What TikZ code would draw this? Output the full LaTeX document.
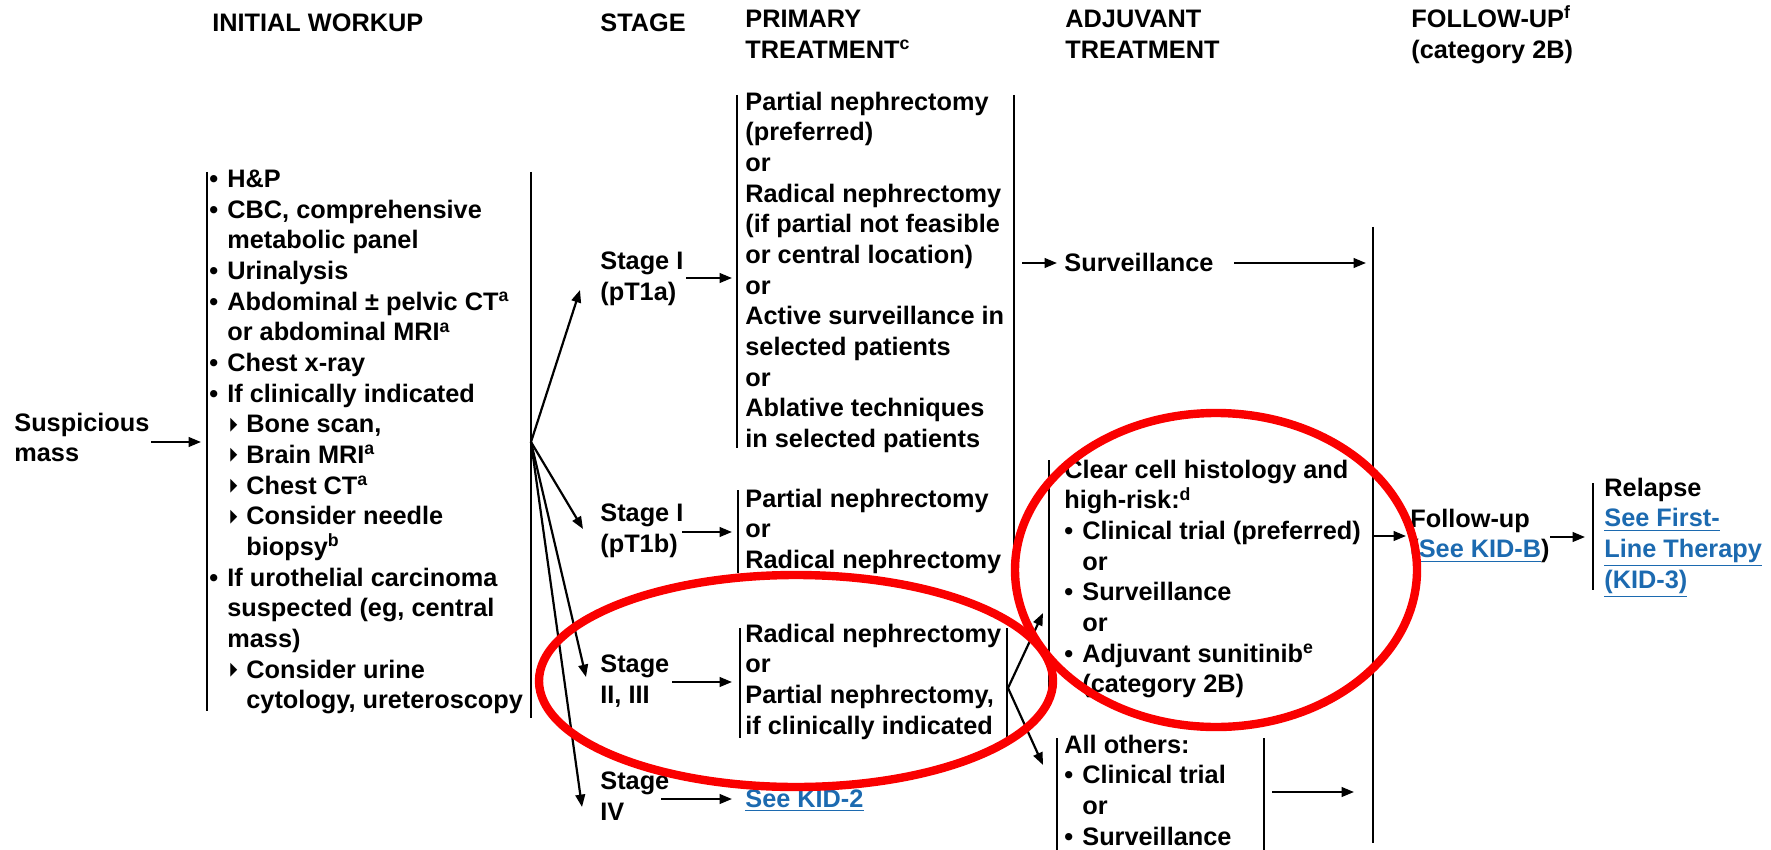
\documentclass[tikz,border=0pt]{standalone}
\usepackage{fontspec}
\setmainfont{Liberation Sans}
\newfontfamily\symfont{DejaVu Sans}
\usetikzlibrary{arrows.meta}

\definecolor{linkblue}{RGB}{28,106,176}
\definecolor{markred}{RGB}{250,0,0}

\newcommand{\diagfont}{\fontsize{12.65}{15.33}\selectfont\bfseries}
\newcommand{\bul}{\makebox[9pt][l]{•}}
\newcommand{\indt}{\hspace*{9pt}}
\newcommand{\tri}{\hspace*{10.5pt}\makebox[8pt][l]{\raisebox{0.3pt}{\scalebox{0.5}[1]{\symfont\fontsize{14}{14}\selectfont ▸}}}}
\newcommand{\subind}{\hspace*{18.5pt}}
\newcommand{\sups}[1]{\smash{\textsuperscript{#1}}}
\newcommand{\lnk}[1]{\textcolor{linkblue}{\underline{#1}}}

\tikzset{
  txt/.style={inner sep=0pt, anchor=north west, yshift=10.73pt, align=left,
    font=\diagfont, execute at begin node=\strut},
  bar/.style={line width=1.1pt},
  con/.style={line width=1.1pt, ->},
  ring/.style={markred, line width=4.2pt},
}

\begin{document}
\begin{tikzpicture}[x=0.5pt,y=-0.5pt,>={Triangle[length=6.2pt,width=4.8pt]}]
  \useasboundingbox (0,0) rectangle (1771,850);
  % column heads
  \node[txt] (hwork) at (212,31) {INITIAL WORKUP};
  \node[txt] (hstage) at (600,31) {STAGE};
  \node[txt] (hprim) at (745,31) {PRIMARY\\TREATMENT\sups{c}};
  \node[txt] (hadj) at (1065,31) {ADJUVANT\\TREATMENT};
  \node[txt] (hfol) at (1411,31) {FOLLOW-UP\sups{f}\\(category 2B)};

  % initial workup
  \node[txt] (mass) at (14,434) {Suspicious\\mass};
  \node[txt] (work) at (209,191) {\bul H\&P\\
    \bul CBC, comprehensive\\
    \indt metabolic panel\\
    \bul Urinalysis\\
    \bul Abdominal ± pelvic CT\sups{a}\\
    \indt or abdominal MRI\sups{a}\\
    \bul Chest x-ray\\
    \bul If clinically indicated\\
    \tri Bone scan,\\
    \tri Brain MRI\sups{a}\\
    \tri Chest CT\sups{a}\\
    \tri Consider needle\\
    \subind biopsy\sups{b}\\
    \bul If urothelial carcinoma\\
    \indt suspected (eg, central\\
    \indt mass)\\
    \tri Consider urine\\
    \subind cytology, ureteroscopy};
  \draw[bar] (207,172) -- (207,711);
  \draw[bar] (531,172) -- (531,718);
  \coordinate (massR) at (151,442);
  \coordinate (workL) at (201,442);
  \coordinate (fan) at (531,442);
  \draw[con] (massR) -- (workL);

  % stages
  \node[txt] (s1a) at (600,273) {Stage I\\(pT1a)};
  \node[txt] (s1b) at (600,525) {Stage I\\(pT1b)};
  \node[txt] (s23) at (600,676) {Stage\\II, III};
  \node[txt] (s4) at (600,793) {Stage\\IV};
  \coordinate (s1aT) at (580,290);
  \coordinate (s1bT) at (583,529);
  \coordinate (s23T) at (586,677);
  \coordinate (s4T) at (582,807);
  \foreach \t in {s1aT,s1bT,s23T,s4T}
    \draw[con] (fan) -- (\t);

  % primary treatment
  \node[txt] (p1a) at (745,113) {Partial nephrectomy\\(preferred)\\or\\
    Radical nephrectomy\\(if partial not feasible\\or central location)\\or\\
    Active surveillance in\\selected patients\\or\\
    Ablative techniques\\in selected patients};
  \node[txt] (p1b) at (745,510) {Partial nephrectomy\\or\\Radical nephrectomy};
  \node[txt] (p23) at (745,645) {Radical nephrectomy\\or\\
    Partial nephrectomy,\\if clinically indicated};
  \node[txt] (kid2) at (745,807) {\lnk{See KID-2}};
  \draw[bar] (737,95) -- (737,448);
  \draw[bar] (1014,95) -- (1014,573);
  \draw[bar] (738,490) -- (738,573);
  \draw[bar] (740,628) -- (740,738);
  \draw[bar] (1007,628) -- (1007,737);
  \draw[con] (686,278) -- (732,278);
  \draw[con] (682,532) -- (732,532);
  \draw[con] (672,682) -- (732,682);
  \draw[con] (661,799) -- (732,799);

  % adjuvant treatment
  \node[txt] (surv) at (1064,271) {Surveillance};
  \node[txt] (clear) at (1064,481) {Clear cell histology and\\high-risk:\sups{d}\\
    \bul Clinical trial (preferred)\\ \indt or\\ \bul Surveillance\\ \indt or\\
    \bul Adjuvant sunitinib\sups{e}\\ \indt (category 2B)};
  \node[txt] (others) at (1064,756) {All others:\\ \bul Clinical trial\\ \indt or\\
    \bul Surveillance};
  \draw[bar] (1049,460) -- (1049,705);
  \draw[bar] (1057,738) -- (1057,850);
  \draw[bar] (1264,738) -- (1264,850);
  \coordinate (fork) at (1008,688);
  \coordinate (clearT) at (1043,613);
  \coordinate (othersT) at (1043,765);
  \draw[con] (fork) -- (clearT);
  \draw[con] (fork) -- (othersT);
  \draw[con] (1022,263) -- (1057,263);
  \draw[con] (1234,263) -- (1366,263);
  \draw[con] (1272,792) -- (1354,792);

  % follow-up
  \node[txt] (fol) at (1410,530) {Follow-up\\(\lnk{See KID-B})};
  \node[txt] (rel) at (1604,499) {Relapse\\ \lnk{See First-}\\ \lnk{Line Therapy}\\
    \lnk{(KID-3)}};
  \draw[bar] (1373,227) -- (1373,843);
  \draw[bar] (1593,483) -- (1593,590);
  \draw[con] (1373,536) -- (1406,536);
  \draw[con] (1550,537) -- (1585,537);

  % red marks
  \draw[ring] (796,681) ellipse [x radius=257, y radius=106];
  \draw[ring] (1216,570) ellipse [x radius=201, y radius=157];
\end{tikzpicture}
\end{document}
